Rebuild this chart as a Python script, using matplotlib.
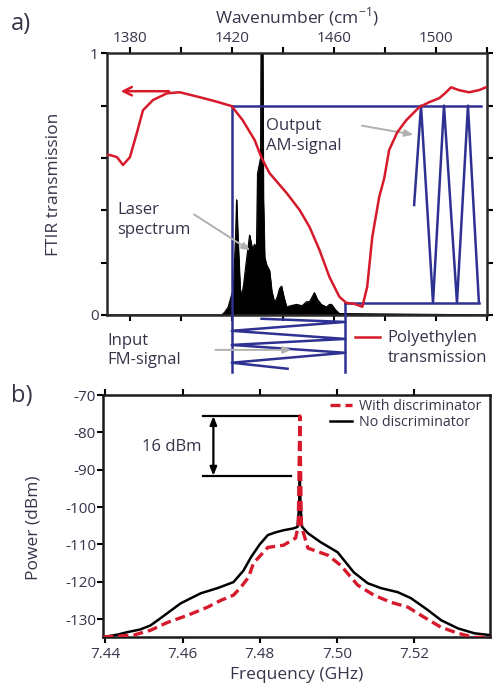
import matplotlib.pyplot as plt

plt.rcParams['font.family'] = ['Open Sans', 'DejaVu Sans']
plt.rcParams['axes.unicode_minus'] = False

TXT = '#35354a'
RED = '#d61a2b'
BLUE = '#2e3192'
GREY = '#b0b0b0'

# ---- panel a: polyethylene transmission (wavenumber, transmission)
pe_wn = [1371.0, 1372.2, 1374.9, 1377.3, 1380.0, 1382.7, 1385.1, 1389.0, 1394.5, 1399.5,
         1407.4, 1414.0, 1419.9, 1424.2, 1428.9, 1431.6, 1434.7, 1441.4, 1446.5, 1450.4,
         1454.3, 1458.2, 1462.1, 1464.8, 1468.0, 1471.1, 1473.0, 1475.0, 1477.7, 1479.7,
         1481.6, 1484.8, 1488.3, 1493.4, 1497.3, 1501.2, 1503.5, 1505.9, 1509.0, 1512.9,
         1516.8, 1519.6]
pe_tr = [0.611, 0.611, 0.603, 0.573, 0.603, 0.695, 0.782, 0.821, 0.847, 0.851,
         0.832, 0.815, 0.798, 0.744, 0.668, 0.600, 0.542, 0.466, 0.401, 0.336,
         0.248, 0.145, 0.069, 0.046, 0.042, 0.031, 0.107, 0.298, 0.450, 0.523,
         0.630, 0.698, 0.744, 0.794, 0.813, 0.828, 0.847, 0.870, 0.859, 0.851,
         0.859, 0.870]

# laser spectrum
las_wn = [1371.0, 1416.0, 1417.1, 1418.5, 1420.5, 1421.4, 1421.8, 1422.3, 1423.2, 1423.8,
          1424.6, 1425.8, 1426.9, 1427.6, 1428.1, 1428.8, 1429.6, 1430.0, 1430.8, 1431.2,
          1431.4, 1432.0, 1432.3, 1432.8, 1433.6, 1434.7, 1435.6, 1436.7, 1437.8, 1438.6,
          1439.4, 1440.3, 1441.4, 1443.0, 1445.3, 1447.5, 1449.2, 1450.4, 1451.5, 1452.3,
          1453.4, 1455.0, 1457.0, 1458.2, 1459.0, 1460.5, 1462.1, 1520.0]
las_int = [0.0, 0.0, 0.01, 0.03, 0.10, 0.30, 0.44, 0.30, 0.10, 0.07,
           0.12, 0.22, 0.305, 0.27, 0.25, 0.27, 0.26, 0.54, 0.58, 0.60,
           1.1, 1.1, 0.45, 0.22, 0.19, 0.17, 0.09, 0.046, 0.07, 0.10,
           0.11, 0.07, 0.03, 0.035, 0.04, 0.035, 0.05, 0.05, 0.07, 0.085,
           0.06, 0.04, 0.03, 0.04, 0.04, 0.02, 0.005, 0.0]

# schematic FM input (below axis) and AM output zig-zags
fm_wn = [1431.6, 1464.4, 1419.9, 1464.4, 1419.9, 1464.4, 1419.9, 1441.8]
fm_y = [-0.015, -0.027, -0.061, -0.092, -0.115, -0.145, -0.183, -0.206]
am_wn = [1491.4, 1494.1, 1498.8, 1503.1, 1508.2, 1512.5, 1516.8]
am_y = [0.42, 0.80, 0.046, 0.80, 0.046, 0.80, 0.046]
box_top_wn = [1419.9, 1517.6]
box_top_y = [0.80, 0.80]
box_bot_wn = [1464.4, 1516.8]
box_bot_y = [0.046, 0.046]
box_left = [1419.9, 0.80, -0.22]
box_right = [1464.4, 0.046, -0.22]

# ---- panel b: spectra (frequency GHz, power dBm)
no_f = [7.4395, 7.4430, 7.4457, 7.4490, 7.4517, 7.4540, 7.4561, 7.4595, 7.4620, 7.4647,
        7.4691, 7.4732, 7.4758, 7.4777, 7.4800, 7.4821, 7.4840, 7.4862, 7.4888, 7.4898,
        7.4902, 7.4904, 7.4906, 7.4910, 7.4925, 7.4958, 7.5002, 7.5044, 7.5080, 7.5114,
        7.5158, 7.5192, 7.5236, 7.5270, 7.5314, 7.5356, 7.5397]
no_p = [-134.8, -134.2, -133.5, -132.8, -131.7, -130.0, -128.4, -125.8, -124.5, -123.1,
        -121.7, -120.1, -117.0, -113.5, -110.0, -107.5, -106.8, -106.2, -105.7, -105.3,
        -100.0, -91.6, -100.0, -105.3, -107.0, -109.4, -112.1, -117.5, -120.4, -121.7,
        -122.8, -124.4, -127.6, -130.3, -132.5, -133.8, -134.3]
wd_f = [7.4395, 7.4473, 7.4517, 7.4561, 7.4613, 7.4665, 7.4699, 7.4732, 7.4751, 7.4771,
        7.4784, 7.4821, 7.4862, 7.4893, 7.4900, 7.4904, 7.4908, 7.4925, 7.4977, 7.5010,
        7.5054, 7.5096, 7.5140, 7.5184, 7.5226, 7.5270, 7.5314, 7.5356, 7.5397]
wd_p = [-134.8, -134.3, -133.0, -130.9, -129.0, -126.8, -125.0, -123.6, -121.5, -118.8,
        -115.0, -110.8, -110.2, -108.3, -105.0, -75.6, -105.0, -111.0, -112.9, -115.6,
        -120.9, -123.6, -125.5, -126.8, -129.5, -132.2, -133.8, -134.9, -134.9]
top_level = -75.6
bot_level = -91.6

fig = plt.figure(figsize=(4.93, 6.92), dpi=100)
axa = fig.add_axes([0.217, 0.545, 0.771, 0.378])
axb = fig.add_axes([0.209, 0.0795, 0.785, 0.3495])

# ================= panel a
axa.fill_between(las_wn, las_int, 0, color='black', lw=0.6)
axa.plot(las_wn, las_int, color='black', lw=0.8)
axa.plot(pe_wn, pe_tr, color=RED, lw=1.8, zorder=4)

kw = dict(color=BLUE, lw=1.8, clip_on=False, zorder=3)
axa.plot(box_top_wn, box_top_y, **kw)
axa.plot(box_bot_wn, box_bot_y, **kw)
axa.plot([box_left[0]] * 2, box_left[1:], **kw)
axa.plot([box_right[0]] * 2, box_right[1:], **kw)
axa.plot(fm_wn, fm_y, **kw)
axa.plot(am_wn, am_y, **kw)

axa.annotate('', xy=(1375.3, 0.855), xytext=(1396.4, 0.855),
             arrowprops=dict(arrowstyle='->,head_length=0.6,head_width=0.3', color=RED, lw=1.8))
ga = dict(arrowstyle='-|>,head_length=0.5,head_width=0.2', color=GREY, lw=1.4)
axa.annotate('', xy=(1428.1, 0.24), xytext=(1404.2, 0.39), arrowprops=ga)
axa.annotate('', xy=(1492.2, 0.687), xytext=(1469.9, 0.725), arrowprops=ga)
axa.annotate('', xy=(1444.5, -0.134), xytext=(1412.4, -0.134), arrowprops=ga,
             annotation_clip=False)

axa.set_xlim(1371, 1519.8)
axa.set_ylim(0, 1)
axa.set_xticks([1380, 1420, 1460, 1500])
axa.set_xticklabels(['1380', '1420', '1460', '1500'])
axa.set_xticks([1400, 1440, 1480, 1520], minor=True)
axa.set_yticks([0, 0.2, 0.4, 0.6, 0.8, 1.0])
axa.set_yticklabels(['0', '', '', '', '', '1'])
axa.tick_params(axis='x', which='both', top=True, bottom=True, labeltop=True,
                labelbottom=False, direction='out', length=4, width=1.5,
                labelsize=11, labelcolor=TXT, pad=1)
axa.tick_params(axis='y', left=True, right=True, direction='out', length=4,
                width=1.5, labelsize=11, labelcolor=TXT, pad=2)
axa.xaxis.set_label_position('top')
axa.set_xlabel('Wavenumber (cm$^{\\mathregular{-1}}$)', fontsize=12.5, color=TXT)
axa.xaxis.set_label_coords(0.5, 1.118)
axa.set_ylabel('FTIR transmission', fontsize=12.5, color=TXT)
axa.yaxis.set_label_coords(-0.118, 0.5)
for s in axa.spines.values():
    s.set_linewidth(1.8)
    s.set_color('#2a2a2a')

tkw = dict(fontsize=12, color=TXT, va='center', linespacing=1.3)
axa.text(1375.0, 0.363, 'Laser\nspectrum', **tkw)
axa.text(1433.2, 0.683, 'Output\nAM-signal', **tkw)
axa.text(1371.0, -0.137, 'Input\nFM-signal', clip_on=False, **tkw)
axa.plot([1468.4, 1478.2], [-0.083, -0.083], color=RED, lw=1.8, clip_on=False)
axa.text(1481.0, -0.127, 'Polyethylen\ntransmission', clip_on=False, **tkw)

# ================= panel b
axb.plot(no_f, no_p, color='black', lw=1.8, label='No discriminator', zorder=3)
axb.plot(wd_f, wd_p, color=RED, lw=2.4, ls=(0, (3, 1.5)),
         label='With discriminator', zorder=4)
axb.plot([7.4652, 7.4904], [top_level] * 2, color='black', lw=1.6)
axb.plot([7.4652, 7.4881], [bot_level] * 2, color='black', lw=1.6)
axb.annotate('', xy=(7.4680, top_level), xytext=(7.4680, bot_level),
             arrowprops=dict(arrowstyle='<|-|>,head_length=0.5,head_width=0.2',
                             color='black', lw=1.6, shrinkA=0, shrinkB=0))
axb.text(7.4648, -84.0, '16 dBm', fontsize=12, color=TXT, ha='right', va='center')

h, l = axb.get_legend_handles_labels()
axb.legend(h[::-1], l[::-1], loc='upper right', frameon=False, fontsize=10.3,
           handlelength=1.5, handletextpad=0.5, labelspacing=0.1,
           borderaxespad=0.2, labelcolor=TXT, bbox_to_anchor=(1.0, 1.02))

axb.set_xlim(7.4394, 7.5397)
axb.set_ylim(-134.8, -70)
axb.set_xticks([7.44, 7.46, 7.48, 7.50, 7.52])
axb.set_xticklabels(['7.44', '7.46', '7.48', '7.50', '7.52'])
axb.set_yticks([-70, -80, -90, -100, -110, -120, -130])
axb.set_yticklabels(['-70', '-80', '-90', '-100', '-110', '-120', '-130'])
axb.tick_params(axis='x', top=True, bottom=True, direction='out', length=4,
                width=1.5, labelsize=11, labelcolor=TXT, pad=3)
axb.tick_params(axis='y', direction='out', length=4, width=1.5, labelsize=11,
                labelcolor=TXT, pad=1)
axb.set_xlabel('Frequency (GHz)', fontsize=12.5, color=TXT)
axb.xaxis.set_label_coords(0.5, -0.125)
axb.set_ylabel('Power (dBm)', fontsize=12.5, color=TXT)
axb.yaxis.set_label_coords(-0.158, 0.45)
for s in axb.spines.values():
    s.set_linewidth(1.8)
    s.set_color('#1a1a1a')

fig.text(0.022, 0.965, 'a)', fontsize=17, color=TXT, va='center')
fig.text(0.022, 0.428, 'b)', fontsize=17, color=TXT, va='center')

fig.savefig('out.png', dpi=100)
